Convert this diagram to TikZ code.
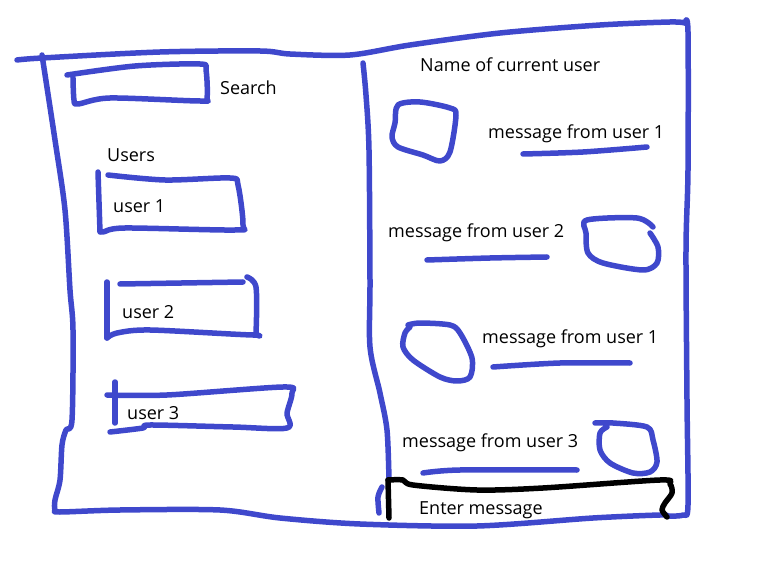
\documentclass[tikz,border=0pt]{standalone}
\usepackage{fontspec}
\setmainfont{Open Sans}
\definecolor{penblue}{RGB}{63,72,204}

\begin{document}
\begin{tikzpicture}[x=1pt,y=-1pt,
    pen/.style={penblue,line width=5.5pt,line cap=round,line join=round},
    ink/.style={black,line width=5.5pt,line cap=round,line join=round},
    lbl/.style={anchor=base west,inner sep=0pt,font=\fontsize{18}{21}\selectfont}]
                \useasboundingbox (0,0) rectangle (777,572);
                % outer frame
                \draw[pen] plot[smooth] coordinates {(17,60) (42,58) (160,52) (260,51) (290,54) (350,55) (410,45) (500,33) (600,25) (670,22) (685,23)};
                \draw[pen] plot[smooth] coordinates {(685,23) (688,32) (688,170) (686,250) (687,400) (688,505) (683,515) (667,516)};
                \draw[pen] plot[smooth] coordinates {(42,55) (55,140) (65,210) (70,290) (73,330) (72,420) (66,430) (62,445) (60,480) (55,500) (55,510) (60,512) (120,510) (220,510) (280,518) (360,524) (477,526) (593,518) (660,515) (667,516)};
                % divider
                \draw[pen] plot[smooth] coordinates {(363,63) (366,95) (369,150) (370,280) (370,347) (380,393) (387,430) (389,480)};
                \draw[pen] plot[smooth] coordinates {(382,487) (378,497) (379,513)};
                % search box
                \draw[pen] plot[smooth] coordinates {(67,75) (135,66) (200,64) (206,70) (207,98) (200,101) (110,98) (78,104) (74,100) (73,78)};
                \node[lbl] (search) at (220,95) {Search};
                % users list
                \node[lbl] (users) at (107,162) {Users};
                \draw[pen] (98,172) -- (100,232);
                \draw[pen] plot[smooth] coordinates {(108,175) (165,180) (230,178) (238,185) (243,225) (235,230) (125,228) (103,232) (100,230)};
                \node[lbl] (user1) at (113,213) {user 1};
                \draw[pen] (107,282) -- (107,338);
                \draw[pen] plot[smooth] coordinates {(120,284) (243,282)};
                \draw[pen] plot[smooth] coordinates {(247,277) (256,287) (256,332) (253,335) (150,330) (117,333) (107,338)};
                \node[lbl] (user2) at (122,319) {user 2};
                \draw[pen] (115,382) -- (115,423);
                \draw[pen] plot[smooth] coordinates {(107,395) (167,395) (283,387) (292,393) (287,413) (287,428) (233,427) (150,425) (143,428) (110,432)};
                \node[lbl] (user3) at (127,419) {user 3};
                % chat
                \node[lbl] (current) at (420,72) {Name of current user};
                \draw[pen] plot[smooth cycle] coordinates {(398,105) (420,102) (450,108) (456,115) (450,152) (440,161) (423,155) (398,147) (392,137) (395,123)};
                \node[lbl] (msgA) at (488,139) {message from user 1};
                \draw[pen] plot[smooth] coordinates {(523,154) (583,152) (647,147)};
                \node[lbl] (msgB) at (388,238) {message from user 2};
                \draw[pen] plot[smooth] coordinates {(427,260) (490,258) (547,257)};
                \draw[pen] plot[smooth] coordinates {(650,233) (658,247) (657,263) (643,270) (603,263) (588,253) (586,233) (587,220) (637,218) (653,227)};
                \node[lbl] (msgC) at (482,343) {message from user 1};
                \draw[pen] plot[smooth] coordinates {(493,367) (560,363) (630,363)};
                \draw[pen] plot[smooth] coordinates {(408,325) (420,323) (450,325) (460,333) (472,358) (470,377) (457,381) (440,377) (413,360) (403,347) (405,333) (410,327)};
                \node[lbl] (msgD) at (402,447) {message from user 3};
                \draw[pen] plot[smooth] coordinates {(423,473) (460,470) (577,470)};
                \draw[pen] plot[smooth] coordinates {(595,423) (613,423) (647,427) (653,440) (657,462) (650,472) (633,473) (610,463) (600,450) (600,433) (607,427)};
                % input
                \draw[ink] (388,480) -- (389,518);
                \draw[ink] plot[smooth] coordinates {(388,480) (403,480) (413,485) (477,490) (543,488) (660,480) (670,484) (672,493) (665,503) (662,510) (667,517)};
                \node[lbl] (enter) at (419,514) {Enter message};
            \end{tikzpicture}
\end{document}
